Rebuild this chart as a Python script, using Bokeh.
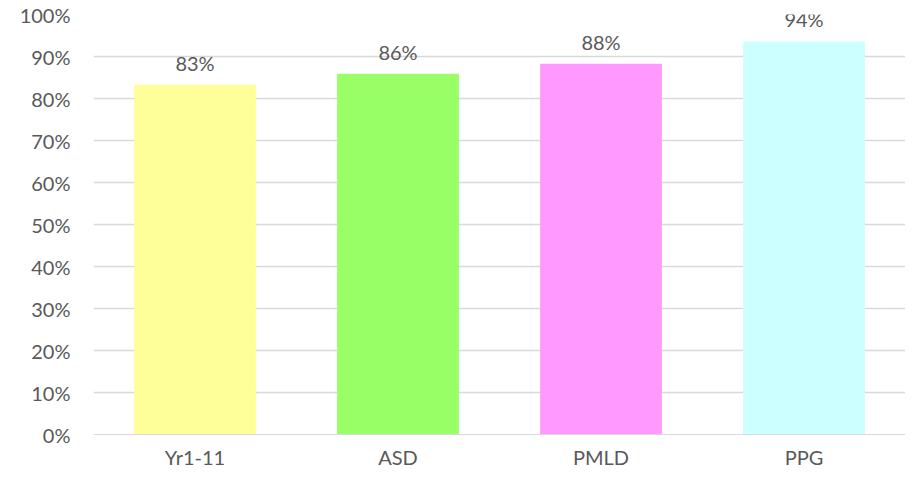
from bokeh.plotting import figure
from bokeh.models import ColumnDataSource, LabelSet, NumeralTickFormatter, FixedTicker
from bokeh.core.properties import value
from bokeh.embed import file_html
from bokeh.resources import INLINE

categories = ["Yr1-11", "ASD", "PMLD", "PPG"]
values = [0.833, 0.859, 0.883, 0.936]
value_labels = ["83%", "86%", "88%", "94%"]
colors = ["#FFFF99", "#99FF66", "#FF99FF", "#CCFFFF"]
y_ticks = [0.0, 0.1, 0.2, 0.3, 0.4, 0.5, 0.6, 0.7, 0.8, 0.9, 1.0]

FONT = "Lato"
TXT = "#595959"
FS = "20px"

src = ColumnDataSource(dict(cat=categories, val=values, lab=value_labels, col=colors))

p = figure(x_range=categories, y_range=(0, 1), width=905, height=471,
           output_backend="svg", toolbar_location=None,
           min_border_left=93, min_border_right=0, min_border_top=14, min_border_bottom=20)
p.outline_line_color = None
p.background_fill_color = "white"
p.border_fill_color = "white"

p.vbar(x="cat", top="val", width=0.6, color="col", source=src, line_color=None)

labels = LabelSet(x="cat", y="val", text="lab", source=src, text_align="center",
                  text_baseline="bottom", y_offset=10, text_font=value(FONT),
                  text_font_size=value(FS), text_color=TXT)
p.add_layout(labels)

p.yaxis.ticker = FixedTicker(ticks=y_ticks)
p.yaxis.formatter = NumeralTickFormatter(format="0%")
p.yaxis.axis_line_color = None
p.yaxis.major_tick_line_color = None
p.yaxis.minor_tick_line_color = None
p.yaxis.major_tick_out = 0
p.yaxis.minor_tick_out = 0
p.yaxis.major_label_text_font = FONT
p.yaxis.major_label_text_font_size = FS
p.yaxis.major_label_text_color = TXT
p.yaxis.major_label_standoff = 23

p.xaxis.axis_line_color = "#D9D9D9"
p.xaxis.major_tick_line_color = None
p.xaxis.minor_tick_line_color = None
p.xaxis.major_tick_out = 0
p.xaxis.minor_tick_out = 0
p.xaxis.major_label_text_font = FONT
p.xaxis.major_label_text_font_size = FS
p.xaxis.major_label_text_color = TXT
p.xaxis.major_label_standoff = 10

p.xgrid.grid_line_color = None
p.ygrid.grid_line_color = "#D9D9D9"
p.ygrid.grid_line_width = 1.5

open("out.html", "w").write(file_html(p, INLINE))
